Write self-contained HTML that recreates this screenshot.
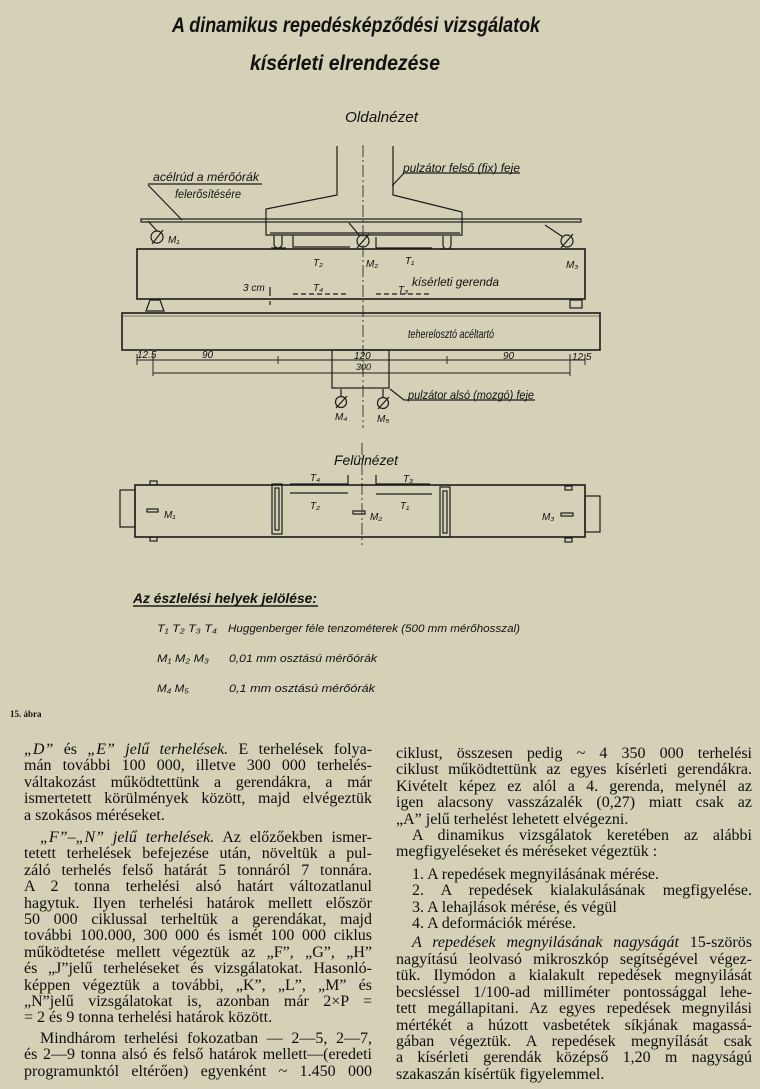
<!DOCTYPE html>
<html><head><meta charset="utf-8"><style>
html,body{margin:0;padding:0;background:#d4d1b6;}
body{width:760px;height:1089px;position:relative;overflow:hidden;}
svg{position:absolute;left:0;top:0;}
.col{position:absolute;font-family:"Liberation Serif",serif;font-size:16px;line-height:16.4px;color:#0e0e0e;}
.col div{text-align:justify;text-align-last:justify;white-space:nowrap;}
.col div.l{text-align-last:left;}
.col .ind{padding-left:16px;}
i{font-style:italic;}
</style></head><body>
<svg width="760" height="740" viewBox="0 0 760 740" font-family="Liberation Sans, sans-serif" fill="none" stroke="#1c1c1c" stroke-width="1.2">
<g fill="#111" stroke="none" font-style="italic">
<text x="172" y="32" font-size="21" font-weight="bold" textLength="368" lengthAdjust="spacingAndGlyphs">A dinamikus repedésképződési vizsgálatok</text>
<text x="250" y="70" font-size="21" font-weight="bold" textLength="190" lengthAdjust="spacingAndGlyphs">kísérleti elrendezése</text>
<text x="345" y="122" font-size="15" textLength="73" lengthAdjust="spacingAndGlyphs">Oldalnézet</text>
<text x="403" y="172" font-size="12" textLength="117" lengthAdjust="spacingAndGlyphs">pulzátor felső (fix) feje</text>
<text x="153" y="181" font-size="12" textLength="106" lengthAdjust="spacingAndGlyphs">acélrúd a mérőórák</text>
<text x="175" y="198" font-size="12" textLength="66" lengthAdjust="spacingAndGlyphs">felerősítésére</text>
<text x="168" y="243" font-size="10">M₁</text>
<text x="313" y="266" font-size="10">T₂</text>
<text x="366" y="267" font-size="10">M₂</text>
<text x="405" y="264" font-size="10">T₁</text>
<text x="566" y="268" font-size="10">M₃</text>
<text x="412" y="286" font-size="12" textLength="87" lengthAdjust="spacingAndGlyphs">kísérleti gerenda</text>
<text x="243" y="291" font-size="10">3 cm</text>
<text x="313" y="291" font-size="10">T₄</text>
<text x="398" y="293" font-size="10">T₃</text>
<text x="408" y="338" font-size="12" textLength="86" lengthAdjust="spacingAndGlyphs">teherelosztó acéltartó</text>
<text x="137" y="358" font-size="10">12.5</text>
<text x="202" y="358" font-size="10">90</text>
<text x="354" y="359" font-size="10">120</text>
<text x="356" y="370" font-size="9">300</text>
<text x="503" y="359" font-size="10">90</text>
<text x="572" y="360" font-size="10">12.5</text>
<text x="408" y="399" font-size="12" textLength="126" lengthAdjust="spacingAndGlyphs">pulzátor alsó (mozgó) feje</text>
<text x="335" y="420" font-size="10">M₄</text>
<text x="377" y="422" font-size="10">M₅</text>
<text x="334" y="465" font-size="14" textLength="64" lengthAdjust="spacingAndGlyphs">Felülnézet</text>
<text x="310" y="481" font-size="10">T₄</text>
<text x="403" y="482" font-size="10">T₃</text>
<text x="310" y="509" font-size="10">T₂</text>
<text x="400" y="509" font-size="10">T₁</text>
<text x="164" y="518" font-size="10">M₁</text>
<text x="370" y="520" font-size="10">M₂</text>
<text x="542" y="520" font-size="10">M₃</text>
<text x="133" y="603" font-size="14" font-weight="bold" textLength="184" lengthAdjust="spacingAndGlyphs">Az észlelési helyek jelölése:</text>
<text x="157" y="632" font-size="11" textLength="60" lengthAdjust="spacingAndGlyphs">T₁ T₂ T₃ T₄</text>
<text x="228" y="632" font-size="11" textLength="292" lengthAdjust="spacingAndGlyphs">Huggenberger féle tenzométerek  (500 mm mérőhosszal)</text>
<text x="157" y="662" font-size="11" textLength="52" lengthAdjust="spacingAndGlyphs">M₁ M₂ M₃</text>
<text x="229" y="662" font-size="11" textLength="148" lengthAdjust="spacingAndGlyphs">0,01 mm  osztású  mérőórák</text>
<text x="157" y="692" font-size="11" textLength="32" lengthAdjust="spacingAndGlyphs">M₄ M₅</text>
<text x="229" y="692" font-size="11" textLength="146" lengthAdjust="spacingAndGlyphs">0,1 mm  osztású  mérőórák</text>
<text x="10" y="717" font-size="9" font-style="normal" font-weight="bold" font-family="Liberation Serif, serif">15. ábra</text>
</g>
<line x1="133" y1="606" x2="318" y2="606" stroke-width="1.4"/>
<line x1="363" y1="145" x2="363" y2="428" stroke-width="0.8" stroke-dasharray="12,3,2,3"/>
<line x1="362" y1="443" x2="362" y2="545" stroke-width="0.8" stroke-dasharray="12,3,2,3"/>
<path d="M337 146 V195 L266 209 V235 H462 V212 L393 195 V146"/>
<line x1="270" y1="233" x2="460" y2="233"/>
<rect x="141" y="219" width="440" height="3"/>
<line x1="392" y1="186" x2="404" y2="173"/><line x1="404" y1="173" x2="520" y2="173"/>
<line x1="148" y1="185" x2="182" y2="220"/><line x1="148" y1="184" x2="262" y2="184"/>
<path d="M274 235 V244 a4 4 0 0 0 8 0 V235 M271 248 H286"/>
<path d="M443 236 V245 a4 4 0 0 0 8 0 V236 M440 249 H455"/>
<path d="M293 235 V247 H350 M376 237 V248 H432"/>
<g>
<circle cx="157" cy="237" r="6"/><line x1="152" y1="244" x2="163" y2="230"/><line x1="148" y1="221" x2="157" y2="231"/>
<circle cx="363" cy="241" r="6"/><line x1="357" y1="248" x2="369" y2="234"/><line x1="349" y1="223" x2="360" y2="236"/>
<circle cx="567" cy="241" r="6"/><line x1="561" y1="248" x2="573" y2="234"/><line x1="545" y1="225" x2="563" y2="237"/>
</g>
<rect x="137" y="249" width="448" height="50" stroke-width="1.6"/>
<path d="M293 294 H348 M376 294 H432" stroke-dasharray="5,3"/>
<path d="M270 287 V296 M270 301 V305"/>
<path d="M150 300 L160 300 L164 311 L146 311 Z"/>
<rect x="570" y="300" width="12" height="8"/>
<rect x="122" y="313" width="478" height="37" stroke-width="1.6"/>
<line x1="122" y1="316" x2="600" y2="316" stroke-width="0.6"/>
<path d="M137 360 H585 M153 373 H570 M137 354 V365 M153 354 V376 M570 354 V376 M585 354 V365 M278 356 V364 M447 356 V364" stroke-width="0.9"/>
<rect x="332" y="350" width="57" height="38"/>
<path d="M390 389 L404 400 H535"/>
<circle cx="341" cy="402" r="5.5"/><line x1="336" y1="408" x2="347" y2="396"/><line x1="341" y1="389" x2="341" y2="396"/>
<circle cx="383" cy="403" r="5.5"/><line x1="378" y1="409" x2="389" y2="397"/><line x1="383" y1="389" x2="383" y2="397"/>
<rect x="135" y="485" width="450" height="52" stroke-width="1.6"/>
<rect x="120" y="490" width="15" height="37"/>
<rect x="585" y="496" width="15" height="36"/>
<rect x="150" y="481" width="7" height="4"/><rect x="150" y="537" width="7" height="4"/>
<rect x="565" y="486" width="7" height="4"/><rect x="565" y="538" width="7" height="4"/>
<rect x="272" y="484" width="10" height="50"/><rect x="275" y="488" width="4" height="42"/>
<rect x="440" y="487" width="10" height="50"/><rect x="443" y="491" width="4" height="42"/>
<path d="M290 484 H348 V475 M376 475 V484 H430" />
<path d="M290 493 H348 M376 494 H432"/>
<rect x="147" y="509" width="11" height="3"/>
<rect x="353" y="511" width="12" height="3"/>
<rect x="561" y="513" width="12" height="3"/>
</svg>

<div class="col" style="left:24px;top:742px;width:348px;">
<div><i>„D”</i> és <i>„E” jelű terhelések.</i> E terhelések folya-</div>
<div>mán további 100 000, illetve 300 000 terhelés-</div>
<div>váltakozást működtettünk a gerendákra, a már</div>
<div>ismertetett körülmények között, majd elvégeztük</div>
<div class="l">a szokásos méréseket.</div>
</div>
<div class="col" style="left:24px;top:830px;width:348px;">
<div class="ind"><i>„F”–„N” jelű terhelések.</i> Az előzőekben ismer-</div>
<div>tetett terhelések befejezése után, növeltük a pul-</div>
<div>záló terhelés felső határát 5 tonnáról 7 tonnára.</div>
<div>A 2 tonna terhelési alsó határt változatlanul</div>
<div>hagytuk. Ilyen terhelési határok mellett először</div>
<div>50 000 ciklussal terheltük a gerendákat, majd</div>
<div>további 100.000, 300 000 és ismét 100 000 ciklus</div>
<div>működtetése mellett végeztük az „F”, „G”, „H”</div>
<div>és „J”jelű terheléseket és vizsgálatokat. Hasonló-</div>
<div>képpen végeztük a további, „K”, „L”, „M” és</div>
<div>„N”jelű vizsgálatokat is, azonban már 2×P =</div>
<div class="l">= 2 és 9 tonna terhelési határok között.</div>
</div>
<div class="col" style="left:24px;top:1031px;width:348px;">
<div class="ind">Mindhárom terhelési fokozatban — 2—5, 2—7,</div>
<div>és 2—9 tonna alsó és felső határok mellett—(eredeti</div>
<div>programunktól eltérően) egyenként ~ 1.450 000</div>
</div>
<div class="col" style="left:396px;top:746px;width:356px;">
<div>ciklust, összesen pedig ~ 4 350 000 terhelési</div>
<div>ciklust működtettünk az egyes kísérleti gerendákra.</div>
<div>Kivételt képez ez alól a 4. gerenda, melynél az</div>
<div>igen alacsony vasszázalék (0,27) miatt csak az</div>
<div class="l">„A” jelű terhelést lehetett elvégezni.</div>
<div class="ind">A dinamikus vizsgálatok keretében az alábbi</div>
<div class="l">megfigyeléseket és méréseket végeztük :</div>
<div class="l ind" style="margin-top:6px">1. A repedések megnyilásának mérése.</div>
<div class="ind">2. A repedések kialakulásának megfigyelése.</div>
<div class="l ind">3. A lehajlások mérése, és végül</div>
<div class="l ind">4. A deformációk mérése.</div>
<div class="ind" style="margin-top:3px"><i>A repedések megnyilásának nagyságát</i> 15-szörös</div>
<div>nagyítású leolvasó mikroszkóp segítségével végez-</div>
<div>tük. Ilymódon a kialakult repedések megnyilását</div>
<div>becsléssel 1/100-ad milliméter pontossággal lehe-</div>
<div>tett megállapitani. Az egyes repedések megnyilási</div>
<div>mértékét a húzott vasbetétek síkjának magassá-</div>
<div>gában végeztük. A repedések megnyílását csak</div>
<div>a kísérleti gerendák középső 1,20 m nagyságú</div>
<div class="l">szakaszán kísértük figyelemmel.</div>
</div>
</body></html>
